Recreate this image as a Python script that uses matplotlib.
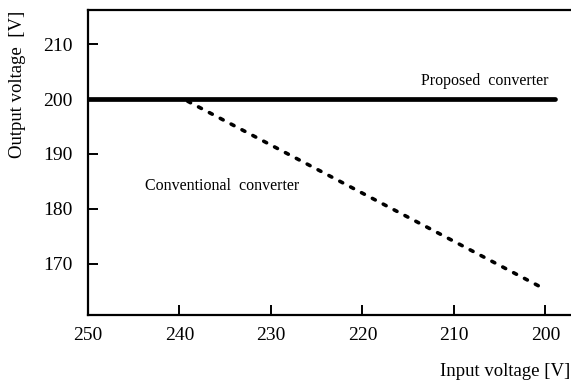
import matplotlib
matplotlib.use("Agg")
import matplotlib.pyplot as plt

plt.rcParams['font.family'] = ['Liberation Serif', 'DejaVu Serif']

# input voltage [V] vs output voltage [V]
vin_proposed = [250, 199]
vout_proposed = [200, 200]
vin_conventional = [239.1, 200.3]
vout_conventional = [199.6, 165.6]

xticks = [250, 240, 230, 220, 210, 200]
yticks = [170, 180, 190, 200, 210]

fig = plt.figure(figsize=(5.71, 3.85), dpi=100)
ax = fig.add_axes([0.154, 0.182, 0.846, 0.792])

ax.plot(vin_proposed, vout_proposed, color='black', lw=3.4, solid_capstyle='round')
ax.plot(vin_conventional, vout_conventional, color='black', lw=2.6,
        linestyle=(0, (0.9, 2.5)), dash_capstyle='round')

ax.set_xlim(250, 197.2)
ax.set_ylim(160.7, 216.2)
ax.set_xticks(xticks)
ax.set_yticks(yticks)
ax.tick_params(direction='in', length=7.5, width=1.4, labelsize=14)
ax.tick_params(axis='y', pad=11)
ax.tick_params(axis='x', pad=9)
ax.spines['right'].set_visible(False)
for s in ['left', 'bottom', 'top']:
    ax.spines[s].set_linewidth(1.6)

ax.text(206.6, 203.3, 'Proposed  converter', ha='center', va='center', fontsize=11.5)
ax.text(243.8, 184.2, 'Conventional  converter', ha='left', va='center', fontsize=11.5)

fig.text(0.03, 0.78, 'Output voltage  [V]', rotation=90, ha='center', va='center',
         fontsize=13.5)
fig.text(0.998, 0.034, 'Input voltage [V]', ha='right', va='center', fontsize=13.5)

fig.savefig('out.png', dpi=100)
